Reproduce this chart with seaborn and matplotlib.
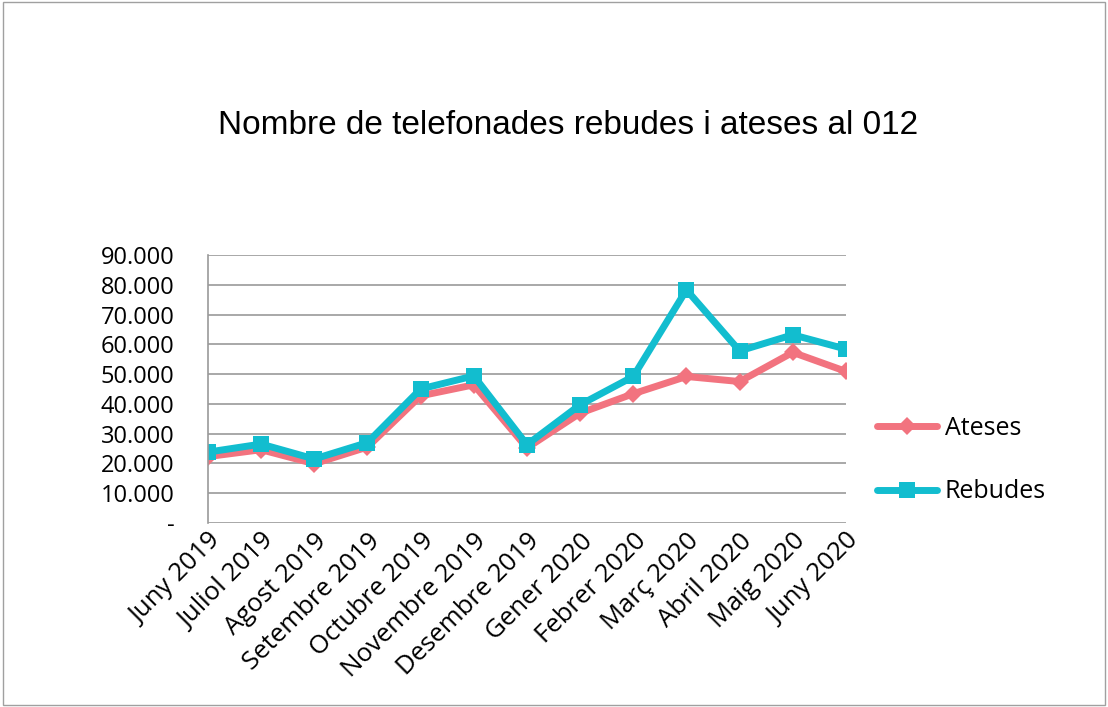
import matplotlib
matplotlib.use("Agg")
import matplotlib.pyplot as plt
import matplotlib.ticker as mticker
from matplotlib.patches import Rectangle
import seaborn as sns
import pandas as pd

months = ["Juny 2019", "Juliol 2019", "Agost 2019", "Setembre 2019", "Octubre 2019",
          "Novembre 2019", "Desembre 2019", "Gener 2020", "Febrer 2020", "Març 2020",
          "Abril 2020", "Maig 2020", "Juny 2020"]
ateses = [22300, 24600, 19900, 25500, 42700, 46400, 25200, 36900, 43400, 49200, 47500, 57300, 50900]
rebudes = [23800, 26500, 21500, 27000, 45000, 49400, 26300, 39700, 49200, 78300, 57800, 63200, 58400]
title = "Nombre de telefonades rebudes i ateses al 012"

sns.set_theme(style="white")
plt.rcParams['font.family'] = ['Open Sans', 'DejaVu Sans']
plt.rcParams['text.color'] = 'black'
plt.rcParams['xtick.color'] = 'black'
plt.rcParams['ytick.color'] = 'black'

df = pd.DataFrame({"idx": list(range(len(months))) * 2,
                   "valor": ateses + rebudes,
                   "serie": ["Ateses"] * len(months) + ["Rebudes"] * len(months)})

fig = plt.figure(figsize=(11.08, 7.07), dpi=100)
ax = fig.add_axes([0.1877, 0.2603, 0.5758, 0.379])

c_at = "#F2737F"
c_re = "#12BDCF"
sns.lineplot(data=df[df.serie == "Ateses"], x="idx", y="valor", ax=ax, color=c_at,
             linewidth=5, marker="D", markersize=9, markeredgewidth=0, label="Ateses")
sns.lineplot(data=df[df.serie == "Rebudes"], x="idx", y="valor", ax=ax, color=c_re,
             linewidth=5, marker="s", markersize=12, markeredgewidth=0, label="Rebudes")

ax.set_xlim(0, len(months) - 1)
ax.set_ylim(0, 90000)
ax.set_yticks(range(0, 90001, 10000))
ax.yaxis.set_major_formatter(mticker.FuncFormatter(
    lambda v, p: "-" if v == 0 else f"{int(v):,}".replace(",", ".")))
ax.set_xticks(range(len(months)))
ax.set_xticklabels(months, rotation=45, ha="right", rotation_mode="anchor", fontsize=18.5)
ax.tick_params(axis="y", labelsize=17, length=0, pad=24, labelcolor="black")
ax.tick_params(axis="x", length=0, pad=4, labelcolor="black")
ax.set_xlabel("")
ax.set_ylabel("")
ax.grid(axis="y", color="#9a9a9a", linewidth=1.2)
ax.set_axisbelow(True)
for s in ["top", "right", "bottom"]:
    ax.spines[s].set_visible(False)
ax.spines["left"].set_color("#9a9a9a")
ax.spines["left"].set_linewidth(1.2)

leg = ax.legend(loc="center left", bbox_to_anchor=(1.014, 0.235), frameon=False,
                fontsize=18, handlelength=2.4, handletextpad=0.3, labelspacing=1.55)
for t in leg.get_texts():
    t.set_color("black")

fig.text(0.513, 0.823, title, ha="center", va="center", fontsize=24,
         family=["Liberation Sans", "DejaVu Sans"], color="black")

fig.patches.append(Rectangle((0.003, 0.003), 0.994, 0.994, transform=fig.transFigure,
                             fill=False, edgecolor="#a0a0a0", linewidth=1.0))

fig.savefig("out.png", dpi=100)
